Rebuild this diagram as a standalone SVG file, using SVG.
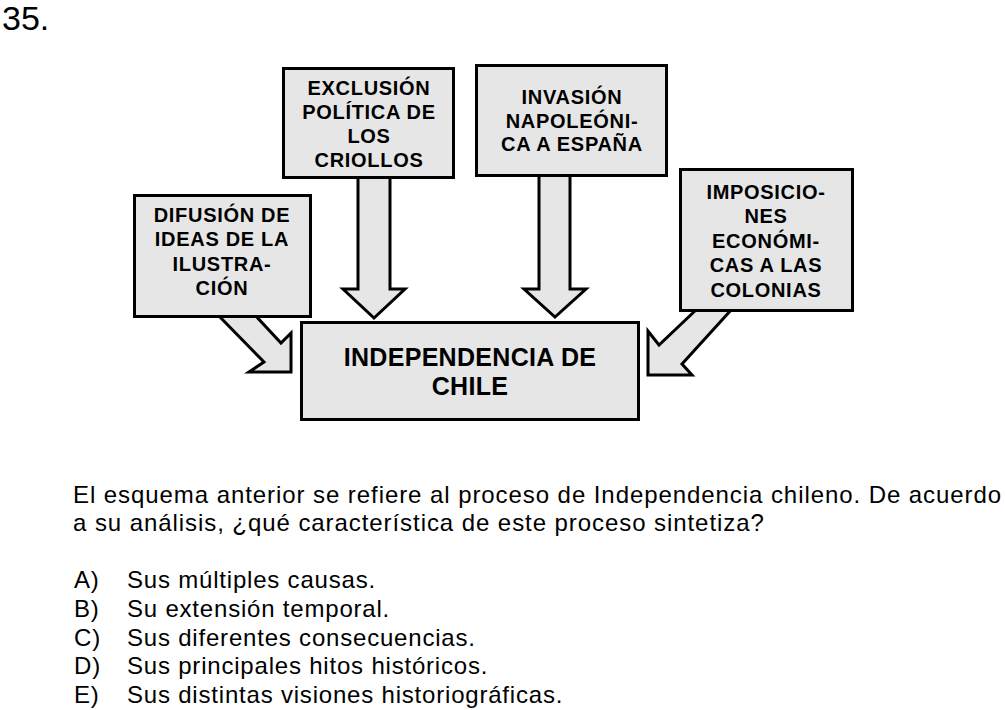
<svg xmlns="http://www.w3.org/2000/svg" width="1005" height="710" viewBox="0 0 1005 710">
<style>
.box{fill:#e6e6e6;stroke:#000;stroke-width:3}
.arr{fill:#e6e6e6;stroke:#000;stroke-width:3;stroke-linejoin:miter}
.bt{font-family:"Liberation Sans",Arial,sans-serif;font-weight:bold;font-size:20px;letter-spacing:0.7px;text-anchor:middle;fill:#000}
.ct{font-family:"Liberation Sans",Arial,sans-serif;font-weight:bold;font-size:25px;letter-spacing:0.3px;text-anchor:middle;fill:#000}
.tx{font-family:"Liberation Sans",Arial,sans-serif;font-size:24px;letter-spacing:0.8px;fill:#000}
.px{letter-spacing:0.93px}
</style>
<rect width="1005" height="710" fill="#fff"/>
<text x="2" y="30" font-family="Liberation Sans,Arial,sans-serif" font-size="34" fill="#000">35.</text>
<g id="connectors">
<polygon class="arr" points="358,176 358,289 343,289 374,318 405,289 390,289 390,176"/>
<polygon class="arr" points="539,174 539,289 524,289 555,317 586,289 570,289 570,174"/>
<polygon class="arr" points="217,314 264,362 249,372 291,372 291,333 281,343 254,314"/>
<polygon class="arr" points="697,309 659,345 648,331 648,375 692,375 682,364 732,309"/>
</g>
<g id="node-difusion">
<rect class="box" x="134.5" y="195.5" width="176" height="121"/>
<text class="bt" x="222" y="222">DIFUSIÓN DE</text>
<text class="bt" x="222" y="246">IDEAS DE LA</text>
<text class="bt" x="222" y="271">ILUSTRA-</text>
<text class="bt" x="222" y="295">CIÓN</text>
</g>
<g id="node-exclusion">
<rect class="box" x="283.5" y="68.5" width="170" height="109"/>
<text class="bt" x="369" y="95">EXCLUSIÓN</text>
<text class="bt" x="369" y="119">POLÍTICA DE</text>
<text class="bt" x="369" y="143">LOS</text>
<text class="bt" x="369" y="167">CRIOLLOS</text>
</g>
<g id="node-invasion">
<rect class="box" x="476.5" y="65.5" width="190" height="110"/>
<text class="bt" x="572" y="104">INVASIÓN</text>
<text class="bt" x="572" y="128">NAPOLEÓNI-</text>
<text class="bt" x="572" y="151">CA A ESPAÑA</text>
</g>
<g id="node-imposiciones">
<rect class="box" x="680.5" y="169.5" width="172" height="141"/>
<text class="bt" x="766" y="199">IMPOSICIO-</text>
<text class="bt" x="766" y="223">NES</text>
<text class="bt" x="766" y="248">ECONÓMI-</text>
<text class="bt" x="766" y="272">CAS A LAS</text>
<text class="bt" x="766" y="297">COLONIAS</text>
</g>
<g id="node-independencia">
<rect class="box" x="301.5" y="322.5" width="337" height="97"/>
<text class="ct" x="470" y="366">INDEPENDENCIA DE</text>
<text class="ct" x="470" y="395">CHILE</text>
</g>
<g id="question">
<text class="tx px" x="73" y="503">El esquema anterior se refiere al proceso de Independencia chileno. De acuerdo</text>
<text class="tx px" x="73" y="531">a su análisis, ¿qué característica de este proceso sintetiza?</text>
<text class="tx" x="74" y="588">A)</text><text class="tx" x="127" y="588">Sus múltiples causas.</text>
<text class="tx" x="74" y="617">B)</text><text class="tx" x="127" y="617">Su extensión temporal.</text>
<text class="tx" x="74" y="646">C)</text><text class="tx" x="127" y="646">Sus diferentes consecuencias.</text>
<text class="tx" x="74" y="674">D)</text><text class="tx" x="127" y="674">Sus principales hitos históricos.</text>
<text class="tx" x="74" y="703">E)</text><text class="tx" x="127" y="703">Sus distintas visiones historiográficas.</text>
</g>
</svg>
